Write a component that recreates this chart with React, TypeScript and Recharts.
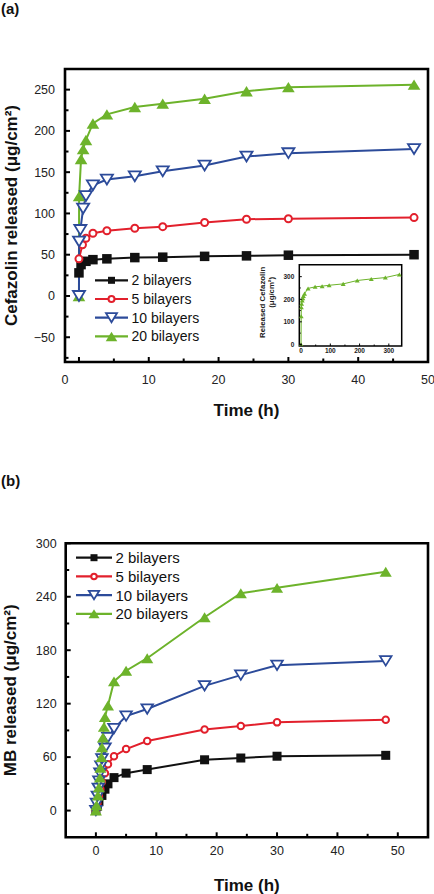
import React from 'react';
import { LineChart, Line, XAxis, YAxis, ReferenceArea, Legend, Label } from 'recharts';

const FONT = 'Arial, "Liberation Sans", Helvetica, sans-serif';

const seriesNames = ['2 bilayers', '5 bilayers', '10 bilayers', '20 bilayers'];
const seriesColors = ['#111111', '#e2202c', '#2c4b9a', '#6db32b'];
const seriesShapes = ['square', 'circle', 'down', 'up'];

// (a) cefazolin released, time in h
const cefTime2 = [0, 0.3, 1, 2, 4, 8, 12, 18, 24, 30, 48];
const cefRel2 = [28, 38, 42, 44, 45, 46.5, 47, 48, 48.6, 49.4, 50];
const cefTime5 = [0, 0.5, 1, 2, 4, 8, 12, 18, 24, 30, 48];
const cefRel5 = [45, 62, 70, 76, 79, 82, 84, 89, 93, 93.5, 95];
const cefTime10 = [0, 0.02, 0.2, 0.6, 1, 2, 4, 8, 12, 18, 24, 30, 48];
const cefRel10 = [0, 66, 80, 106, 121, 134, 141, 145, 151, 158, 169, 173, 178];
const cefTime20 = [0, 0.02, 0.3, 0.6, 1, 2, 4, 8, 12, 18, 24, 30, 48];
const cefRel20 = [0, 121, 166, 178, 189, 209, 220, 229, 233, 239, 248, 253, 256];

// inset: 20 bilayers over two weeks
const insetTime = [0, 0.5, 1, 2, 4, 6, 8, 12, 24, 48, 72, 96, 144, 192, 240, 288, 336];
const insetRel = [0, 125, 165, 180, 195, 205, 215, 225, 248, 255, 258, 262, 268, 283, 290, 296, 310];

// (b) MB released
const mbTime2 = [0, 0.25, 0.5, 1, 1.5, 2, 3, 5, 8.5, 18, 24, 30, 48];
const mbRel2 = [0, 5, 10, 17, 24, 30, 37, 42, 46, 57, 59, 61, 62];
const mbTime5 = [0, 0.25, 0.5, 0.75, 1, 1.5, 2, 3, 5, 8.5, 18, 24, 30, 48];
const mbRel5 = [0, 8, 16, 24, 32, 42, 52, 61, 69, 78, 91, 95, 99, 102];
const mbTime10 = [0, 0.1, 0.25, 0.4, 0.5, 0.67, 0.83, 1, 1.5, 2, 3, 5, 8.5, 18, 24, 30, 48];
const mbRel10 = [0, 8, 16, 25, 33, 42, 50, 58, 70, 82, 92, 106, 114, 140, 152, 163, 168];
const mbTime20 = [0, 0.1, 0.33, 0.5, 0.67, 0.75, 0.92, 1, 1.17, 1.33, 1.5, 2, 3, 5, 8.5, 18, 24, 30, 48];
const mbRel20 = [0, 6, 17, 26, 37, 48, 60, 71, 82, 94, 105, 118, 145, 157, 171, 217, 244, 250, 268];

// ticks
const cefTicksX = [0, 5, 10, 15, 20, 25, 30, 35, 40, 45, 50];
const cefLabelsX = [0, 10, 20, 30, 40, 50];
const cefTicksY = [-75, -50, -25, 0, 25, 50, 75, 100, 125, 150, 175, 200, 225, 250];
const cefLabelsY = [-50, 0, 50, 100, 150, 200, 250];
const insetTicksX = [0, 50, 100, 150, 200, 250, 300];
const insetTicksY = [0, 50, 100, 150, 200, 250, 300];
const insetLabels = [0, 100, 200, 300];
const mbTicksX = [0, 5, 10, 15, 20, 25, 30, 35, 40, 45, 50];
const mbLabelsX = [0, 10, 20, 30, 40, 50];
const mbTicksY = [0, 30, 60, 90, 120, 150, 180, 210, 240, 270, 300];
const mbLabelsY = [0, 60, 120, 180, 240, 300];

const rows = (xs: number[], ys: number[]) => xs.map((t, i) => ({ t, v: ys[i] }));

const cefSeries = [rows(cefTime2, cefRel2), rows(cefTime5, cefRel5), rows(cefTime10, cefRel10), rows(cefTime20, cefRel20)];
const mbSeries = [rows(mbTime2, mbRel2), rows(mbTime5, mbRel5), rows(mbTime10, mbRel10), rows(mbTime20, mbRel20)];
const insetRows = rows(insetTime, insetRel);

type MarkerProps = { shape: string; cx: number; cy: number; color: string; size: number; stroke?: number };

function Marker({ shape, cx, cy, color, size, stroke = 2 }: MarkerProps) {
  if (cx == null || cy == null || isNaN(cx) || isNaN(cy)) return null;
  const h = size / 2;
  if (shape === 'square') {
    return <rect x={cx - h} y={cy - h} width={size} height={size} fill={color} />;
  }
  if (shape === 'circle') {
    return <circle cx={cx} cy={cy} r={h - stroke / 2} fill="#fff" stroke={color} strokeWidth={stroke} />;
  }
  const w = h * 1.1;
  const t = h * 0.9;
  if (shape === 'down') {
    return (
      <path
        d={`M${cx - w},${cy - t}L${cx + w},${cy - t}L${cx},${cy + t}Z`}
        fill="#fff"
        stroke={color}
        strokeWidth={stroke * 0.9}
      />
    );
  }
  return <path d={`M${cx - w},${cy + t}L${cx + w},${cy + t}L${cx},${cy - t}Z`} fill={color} />;
}

const fmt = (v: number) => (v < 0 ? `\u2212${-v}` : `${v}`);

type TickStyle = {
  labels: number[];
  major: number;
  minor: number;
  gap: number;
  size: number;
  weight?: string;
  width: number;
  zeroShift?: number;
};

function yTick(s: TickStyle) {
  return (p: any) => {
    const v = p.payload.value;
    const ax = p.x + s.gap;
    const lab = s.labels.includes(v);
    return (
      <g>
        <line x1={ax} x2={ax + (lab ? s.major : s.minor)} y1={p.y} y2={p.y} stroke="#000" strokeWidth={s.width} />
        {lab && (
          <text x={p.x} y={p.y} dy="0.35em" textAnchor="end" fontSize={s.size} fontWeight={s.weight} fontFamily={FONT} fill="#222">
            {fmt(v)}
          </text>
        )}
      </g>
    );
  };
}

function xTick(s: TickStyle) {
  return (p: any) => {
    const v = p.payload.value;
    const ay = p.y - s.gap;
    const lab = s.labels.includes(v);
    const dx = v === 0 && s.zeroShift ? s.zeroShift : 0;
    return (
      <g>
        <line x1={p.x} x2={p.x} y1={ay} y2={ay - (lab ? s.major : s.minor)} stroke="#000" strokeWidth={s.width} />
        {lab && (
          <text x={p.x + dx} y={p.y} dy="0.35em" textAnchor="middle" fontSize={s.size} fontWeight={s.weight} fontFamily={FONT} fill="#222">
            {fmt(v)}
          </text>
        )}
      </g>
    );
  };
}

const xTitle = (text: string, dy: number) => (props: any) => {
  const vb = props.viewBox;
  return (
    <text x={vb.x + vb.width / 2} y={vb.y + dy} dy="0.35em" textAnchor="middle" fontSize={17} fontWeight="bold" fontFamily={FONT} fill="#111">
      {text}
    </text>
  );
};

const yTitle = (text: string, x: number) => (props: any) => {
  const vb = props.viewBox;
  const cy = vb.y + vb.height / 2;
  return (
    <text x={x} y={cy} transform={`rotate(-90 ${x} ${cy})`} dy="0.35em" textAnchor="middle" fontSize={17} fontWeight="bold" fontFamily={FONT} fill="#111">
      {text}
    </text>
  );
};

type LegendProps = { first: number; gap: number; lineLen: number; font: number; sizes: number[] };

function LegendBox({ first, gap, lineLen, font, sizes }: LegendProps) {
  return (
    <svg width={160} height={first + gap * 4} style={{ display: 'block' }}>
      {seriesNames.map((name, i) => {
        const y = first + i * gap;
        return (
          <g key={name}>
            <line x1={0} x2={lineLen} y1={y} y2={y} stroke={seriesColors[i]} strokeWidth={2.2} />
            <Marker shape={seriesShapes[i]} cx={lineLen / 2} cy={y} color={seriesColors[i]} size={sizes[i]} />
            <text x={lineLen + 3.5} y={y} dy="0.36em" fontSize={font} fontFamily={FONT} fill="#111">
              {name}
            </text>
          </g>
        );
      })}
    </svg>
  );
}

const cefOrder = [3, 0, 1, 2];
const mbOrder = [0, 1, 2, 3];
const bigSizes = [9.5, 9, 11, 11.5];

function CefazolinChart() {
  return (
    <LineChart width={434} height={420} margin={{ top: 69, right: 6, left: 0, bottom: 0 }}>
      <XAxis
        dataKey="t"
        type="number"
        domain={[-2, 50]}
        ticks={cefTicksX}
        interval={0}
        allowDataOverflow
        axisLine={false}
        tickLine={false}
        tickSize={0}
        tickMargin={18}
        height={58}
        tick={xTick({ labels: cefLabelsX, major: 5, minor: 3.5, gap: 18, size: 12.5, width: 2, zeroShift: -14 })}
      >
        <Label content={xTitle('Time (h)', 48)} />
      </XAxis>
      <YAxis
        dataKey="v"
        type="number"
        domain={[-80, 275]}
        ticks={cefTicksY}
        interval={0}
        allowDataOverflow
        axisLine={false}
        tickLine={false}
        tickSize={0}
        tickMargin={10}
        width={65}
        tick={yTick({ labels: cefLabelsY, major: 5, minor: 3.5, gap: 10, size: 12.5, width: 2 })}
      >
        <Label content={yTitle('Cefazolin released (\u03bcg/cm\u00b2)', 11)} />
      </YAxis>
      <ReferenceArea x1={-2} x2={50} y1={-80} y2={275} fill="none" stroke="#000" strokeWidth={2.6} ifOverflow="visible" />
      {cefOrder.map((i) => (
        <Line
          key={seriesNames[i]}
          data={cefSeries[i]}
          dataKey="v"
          name={seriesNames[i]}
          type="linear"
          stroke={seriesColors[i]}
          strokeWidth={2}
          isAnimationActive={false}
          dot={(p: any) => (
            <Marker key={`${i}-${p.index}`} shape={seriesShapes[i]} cx={p.cx} cy={p.cy} color={seriesColors[i]} size={bigSizes[i]} />
          )}
          activeDot={false}
        />
      ))}
      <Legend
        layout="vertical"
        align="center"
        verticalAlign="middle"
        wrapperStyle={{ left: 95, top: 268, width: 160, height: 80 }}
        content={() => <LegendBox first={12.3} gap={18.7} lineLen={33} font={14} sizes={[7, 8, 10, 10.5]} />}
      />
    </LineChart>
  );
}

function InsetChart() {
  return (
    <LineChart width={155} height={108} margin={{ top: 9.7, right: 8.3, left: 0, bottom: 0 }}>
      <XAxis
        dataKey="t"
        type="number"
        domain={[-6, 344]}
        ticks={insetTicksX}
        interval={0}
        allowDataOverflow
        axisLine={false}
        tickLine={false}
        tickSize={0}
        tickMargin={5}
        height={17}
        tick={xTick({ labels: insetLabels, major: 2.5, minor: 1.5, gap: 5, size: 6.5, weight: 'bold', width: 1 })}
      />
      <YAxis
        dataKey="v"
        type="number"
        domain={[-7, 353]}
        ticks={insetTicksY}
        interval={0}
        allowDataOverflow
        axisLine={false}
        tickLine={false}
        tickSize={0}
        tickMargin={5}
        width={44.3}
        tick={yTick({ labels: insetLabels, major: 2.5, minor: 1.5, gap: 5, size: 6.5, weight: 'bold', width: 1 })}
      >
        <Label
          content={(props: any) => {
            const vb = props.viewBox;
            const cy = vb.y + vb.height / 2;
            return (
              <g fontSize={7.8} fontWeight="bold" fontFamily={FONT} fill="#222" textAnchor="middle">
                <text x={7} y={cy - 3} transform={`rotate(-90 7 ${cy - 3})`} dy="0.35em">
                  {'Released Cefazolin'}
                </text>
                <text x={16} y={cy - 13} transform={`rotate(-90 16 ${cy - 13})`} dy="0.35em">
                  {'(\u03bcg/cm\u00b2)'}
                </text>
              </g>
            );
          }}
        />
      </YAxis>
      <ReferenceArea x1={-6} x2={344} y1={-7} y2={353} fill="#fff" stroke="#000" strokeWidth={1.5} ifOverflow="visible" />
      <Line
        data={insetRows}
        dataKey="v"
        type="linear"
        stroke={seriesColors[3]}
        strokeWidth={1}
        isAnimationActive={false}
        dot={(p: any) => <Marker key={p.index} shape="up" cx={p.cx} cy={p.cy} color={seriesColors[3]} size={4.5} />}
        activeDot={false}
      />
    </LineChart>
  );
}

function MbChart() {
  return (
    <LineChart width={434} height={414} margin={{ top: 63.3, right: 6, left: 0, bottom: 0 }}>
      <XAxis
        dataKey="t"
        type="number"
        domain={[-5, 55]}
        ticks={mbTicksX}
        interval={0}
        allowDataOverflow
        axisLine={false}
        tickLine={false}
        tickSize={0}
        tickMargin={13}
        height={56.7}
        tick={xTick({ labels: mbLabelsX, major: 5, minor: 3.5, gap: 13, size: 12.5, width: 2 })}
      >
        <Label content={xTitle('Time (h)', 47.7)} />
      </XAxis>
      <YAxis
        dataKey="v"
        type="number"
        domain={[-30, 300]}
        ticks={mbTicksY}
        interval={0}
        allowDataOverflow
        axisLine={false}
        tickLine={false}
        tickSize={0}
        tickMargin={9}
        width={65.7}
        tick={yTick({ labels: mbLabelsY, major: 5, minor: 3.5, gap: 9, size: 12.5, width: 2 })}
      >
        <Label content={yTitle('MB released (\u03bcg/cm\u00b2)', 10)} />
      </YAxis>
      <ReferenceArea x1={-5} x2={55} y1={-30} y2={300} fill="none" stroke="#000" strokeWidth={2.6} ifOverflow="visible" />
      {mbOrder.map((i) => (
        <Line
          key={seriesNames[i]}
          data={mbSeries[i]}
          dataKey="v"
          name={seriesNames[i]}
          type="linear"
          stroke={seriesColors[i]}
          strokeWidth={2}
          isAnimationActive={false}
          dot={(p: any) => (
            <Marker key={`${i}-${p.index}`} shape={seriesShapes[i]} cx={p.cx} cy={p.cy} color={seriesColors[i]} size={[9, 8.5, 10.5, 11][i]} />
          )}
          activeDot={false}
        />
      ))}
      <Legend
        layout="vertical"
        align="center"
        verticalAlign="middle"
        wrapperStyle={{ left: 76, top: 66, width: 160, height: 80 }}
        content={() => <LegendBox first={11.7} gap={18.7} lineLen={36} font={15} sizes={[7, 7.5, 9.5, 10]} />}
      />
    </LineChart>
  );
}

export default function App() {
  return (
    <div style={{ position: 'absolute', left: 0, top: 0, width: 434, height: 894, overflow: 'hidden', background: '#fff' }}>
      <div style={{ position: 'absolute', left: 0, top: 0 }}>
        <CefazolinChart />
      </div>
      <div style={{ position: 'absolute', left: 255, top: 255 }}>
        <InsetChart />
      </div>
      <div style={{ position: 'absolute', left: 0, top: 480 }}>
        <MbChart />
      </div>
      <svg width={434} height={894} style={{ position: 'absolute', left: 0, top: 0, pointerEvents: 'none' }}>
        <text x={1} y={8.5} dy="0.35em" fontSize={15} fontWeight="bold" fontFamily={FONT} fill="#111">
          (a)
        </text>
        <text x={1} y={481} dy="0.35em" fontSize={15} fontWeight="bold" fontFamily={FONT} fill="#111">
          (b)
        </text>
      </svg>
    </div>
  );
}
